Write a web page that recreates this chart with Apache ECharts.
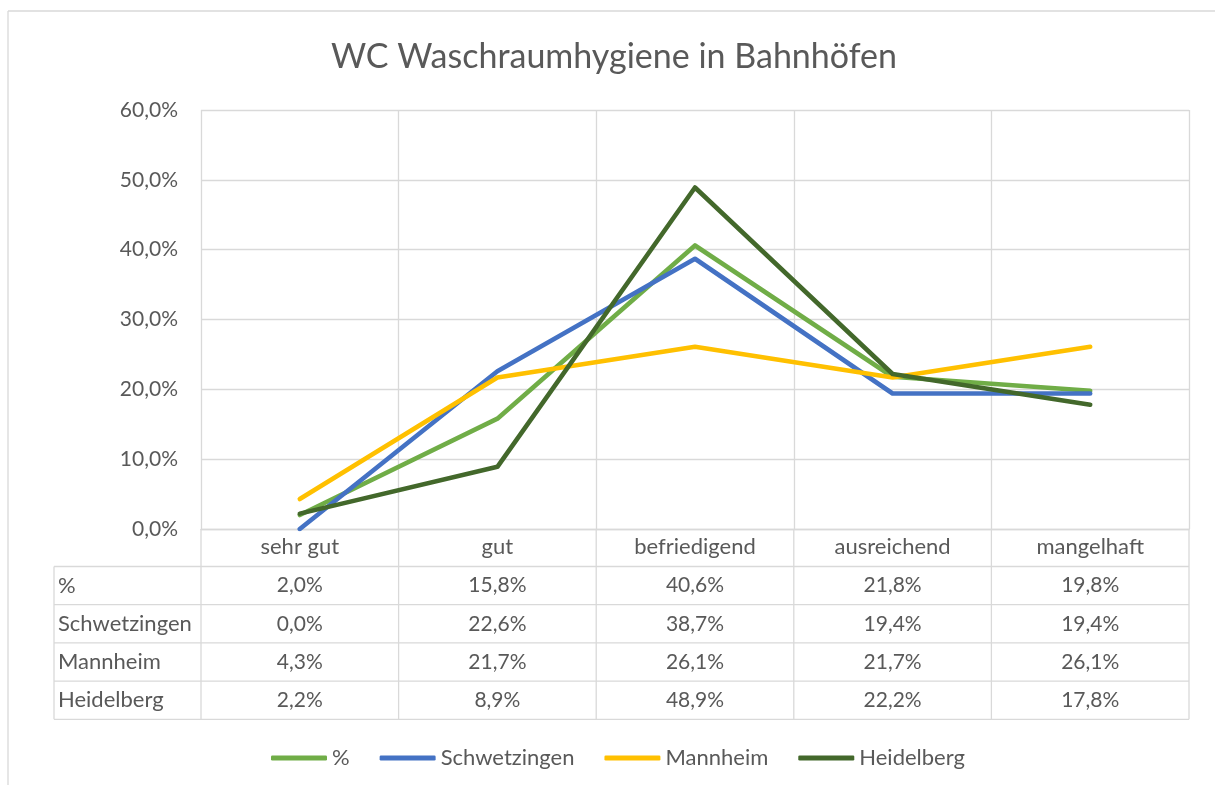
<!DOCTYPE html>
<html>
<head>
<meta charset="utf-8">
<title>WC Waschraumhygiene in Bahnhöfen</title>
<script src="https://cdn.jsdelivr.net/npm/echarts@6/dist/echarts.min.js"></script>
<style>
  html, body { margin: 0; padding: 0; background: #fff; }
  #chart { width: 1215px; height: 785px; }
</style>
</head>
<body>
<div id="chart"></div>
<script>
// Kategorien und Werte (in Prozent)
const categories = ['sehr gut', 'gut', 'befriedigend', 'ausreichend', 'mangelhaft']
const seriesNames = ['%', 'Schwetzingen', 'Mannheim', 'Heidelberg']
const gesamt = [2.0, 15.8, 40.6, 21.8, 19.8]
const schwetzingen = [0.0, 22.6, 38.7, 19.4, 19.4]
const mannheim = [4.3, 21.7, 26.1, 21.7, 26.1]
const heidelberg = [2.2, 8.9, 48.9, 22.2, 17.8]
const yTicks = [0, 10, 20, 30, 40, 50, 60]

const colors = ['#70ad47', '#4472c4', '#ffc000', '#43682b']
const textColor = '#595959'
const gridColor = '#d9d9d9'
const fontFamily = 'Lato'

// 60 -> "60,0%"
const fmt = v => v.toFixed(1).replace('.', ',') + '%'

const chart = echarts.init(document.getElementById('chart'))
const allRows = [gesamt, schwetzingen, mannheim, heidelberg]

const option = {
  backgroundColor: '#fff',
  animation: false,
  color: colors,
  title: {
    text: 'WC Waschraumhygiene in Bahnhöfen',
    left: 326,
    top: 35,
    textStyle: {
      color: textColor,
      fontFamily: fontFamily,
      fontSize: 34,
      fontWeight: 'normal'
    }
  },
  grid: {
    left: 201,
    right: 26,
    top: 110,
    bottom: 256
  },
  legend: {
    data: seriesNames,
    left: 266,
    top: 742,
    icon: 'roundRect',
    itemWidth: 56,
    itemHeight: 5,
    itemGap: 30,
    textStyle: {
      color: textColor,
      fontFamily: fontFamily,
      fontSize: 22
    }
  },
  xAxis: {
    type: 'category',
    data: categories,
    boundaryGap: true,
    axisLine: { lineStyle: { color: gridColor, width: 1.3 } },
    axisTick: { show: false },
    splitLine: { show: true, lineStyle: { color: gridColor, width: 1.3 } },
    axisLabel: {
      color: textColor,
      fontFamily: fontFamily,
      fontSize: 22,
      margin: 7
    }
  },
  yAxis: {
    type: 'value',
    min: yTicks[0],
    max: yTicks[yTicks.length - 1],
    interval: yTicks[1] - yTicks[0],
    axisLine: { show: false },
    axisTick: { show: false },
    splitLine: { lineStyle: { color: gridColor, width: 1.3 } },
    axisLabel: {
      color: textColor,
      fontFamily: fontFamily,
      fontSize: 21,
      margin: 23,
      formatter: fmt
    }
  },
  series: seriesNames.map((name, i) => ({
    name: name,
    type: 'line',
    data: allRows[i],
    symbol: 'none',
    lineStyle: { width: 4.6, cap: 'round', join: 'round' }
  }))
}
chart.setOption(option)

// Datentabelle unter der Achse, Spalten aus der Kategorieachse
function buildTable () {
  const centers = categories.map(c => chart.convertToPixel({ xAxisIndex: 0 }, c))
  const half = (centers[1] - centers[0]) / 2
  const left = centers[0] - half
  const right = centers[centers.length - 1] + half
  const top = chart.convertToPixel({ yAxisIndex: 0 }, yTicks[0])
  const headerH = 37.5
  const rowH = 38.2
  const tableLeft = 54
  const els = []
  const line = (x1, y1, x2, y2) => ({
    type: 'line',
    shape: { x1, y1, x2, y2 },
    style: { stroke: gridColor, lineWidth: 1.3 },
    silent: true
  })
  const text = (str, x, y, align, size) => ({
    type: 'text',
    x: x,
    y: y,
    style: {
      text: str,
      fill: textColor,
      font: size + 'px ' + fontFamily,
      align: align,
      verticalAlign: 'middle'
    },
    silent: true
  })
  const bottom = top + headerH + rowH * allRows.length
  // horizontale Linien
  for (let r = 0; r <= allRows.length; r++) {
    const y = top + headerH + rowH * r
    els.push(line(tableLeft, y, right, y))
  }
  // vertikale Linien
  els.push(line(tableLeft, top + headerH, tableLeft, bottom))
  els.push(line(left, top, left, bottom))
  centers.forEach(c => {
    els.push(line(c + half, top, c + half, bottom))
  })
  // Zeilen
  allRows.forEach((row, r) => {
    const y = top + headerH + rowH * r + rowH / 2
    els.push(text(seriesNames[r], tableLeft + 4, y, 'left', 22))
    row.forEach((v, i) => {
      els.push(text(fmt(v), centers[i], y, 'center', 21))
    })
  })
  // Rahmen des Diagramms
  els.push(line(8, 11, 1215, 11))
  els.push(line(8, 11, 8, 785))
  chart.setOption({ graphic: { elements: els } })
}
buildTable()
</script>
</body>
</html>
